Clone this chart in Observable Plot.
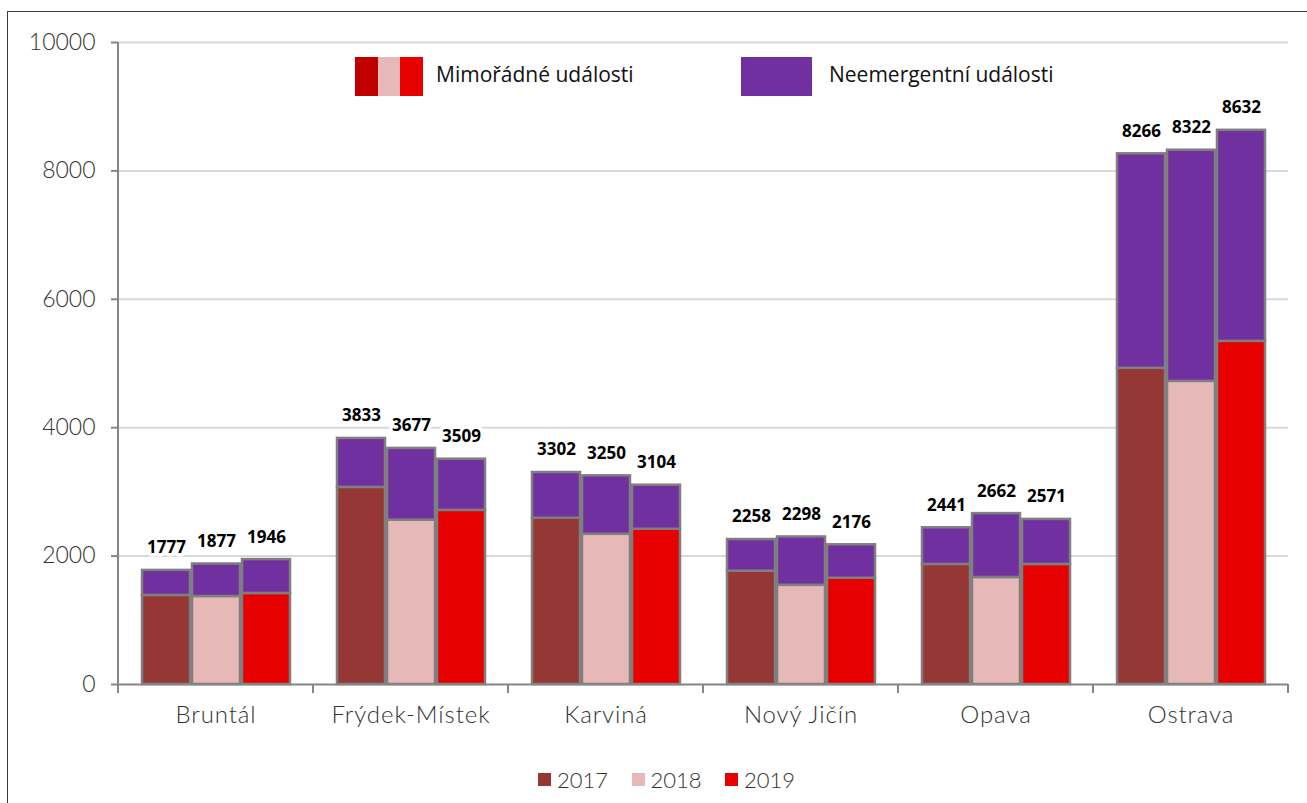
<!DOCTYPE html>
<html>
<head>
<meta charset="utf-8">
<script src="https://cdn.jsdelivr.net/npm/d3@7"></script>
<script src="https://cdn.jsdelivr.net/npm/@observablehq/plot@0.6"></script>
<style>
  html, body { margin: 0; padding: 0; background: #fff; }
  body { width: 1307px; height: 803px; overflow: hidden; position: relative; }
  #frame { position: absolute; left: 7px; top: 11px; width: 1400px; height: 900px;
           border-left: 1.5px solid #3c3c3c; border-top: 1.5px solid #3c3c3c; }
  #chart { position: absolute; left: 0; top: 0; }
  #chart g[aria-label="fx-axis tick label"] text { letter-spacing: 0.9px; }
  .tl { position: absolute; font-family: "Open Sans", sans-serif; font-size: 21px; color: #111; line-height: 1; }
  .sw { position: absolute; height: 39px; }
  .bl { position: absolute; font-family: Lato, sans-serif; font-weight: 300; font-size: 22px; color: #333; line-height: 1; }
  .bsw { position: absolute; width: 13px; height: 13px; }
</style>
</head>
<body>
<div id="frame"></div>
<div id="chart"></div>
<div id="legendTop"></div>
<div id="legendBottom"></div>
<script>
// ---- data ----
const districts = ["Bruntál", "Frýdek-Místek", "Karviná", "Nový Jičín", "Opava", "Ostrava"];
const years = ["2017", "2018", "2019"];
const totals2017 = [1777, 3833, 3302, 2258, 2441, 8266];
const totals2018 = [1877, 3677, 3250, 2298, 2662, 8322];
const totals2019 = [1946, 3509, 3104, 2176, 2571, 8632];
const mimoradne2017 = [1387, 3070, 2590, 1765, 1870, 4925];
const mimoradne2018 = [1371, 2560, 2340, 1545, 1667, 4722];
const mimoradne2019 = [1418, 2712, 2418, 1655, 1870, 5345];
const yTicks = [0, 2000, 4000, 6000, 8000, 10000];
const seriesNames = ["Mimořádné události", "Neemergentní události"];
const yearColors = ["#953735", "#E6B9B8", "#E60000"];
const legendMimColors = ["#C00000", "#E6B9B8", "#E60000"];
const neemColor = "#7030A0";

const totalsByYear = {"2017": totals2017, "2018": totals2018, "2019": totals2019};
const mimByYear = {"2017": mimoradne2017, "2018": mimoradne2018, "2019": mimoradne2019};

const rows = [];
const labelRows = [];
districts.forEach((d, i) => {
  years.forEach(y => {
    rows.push({district: d, year: y, key: y, value: mimByYear[y][i]});
  });
});
districts.forEach((d, i) => {
  years.forEach(y => {
    rows.push({district: d, year: y, key: "N", value: totalsByYear[y][i] - mimByYear[y][i]});
    labelRows.push({district: d, year: y, total: totalsByYear[y][i]});
  });
});

const chart = Plot.plot({
  width: 1307,
  height: 745,
  marginLeft: 117,
  marginRight: 18,
  marginTop: 42,
  marginBottom: 61,
  style: {background: "transparent"},
  fx: {domain: districts, padding: 0, label: null},
  x: {domain: years, paddingInner: 0.05, paddingOuter: 0.45, axis: null},
  y: {domain: [0, 10000], label: null},
  color: {domain: [...years, "N"], range: [...yearColors, neemColor]},
  marks: [
    Plot.ruleY(yTicks.filter(t => t > 0), {stroke: "#d9d9d9", strokeWidth: 2}),
    Plot.barY(rows, {fx: "district", x: "year", y: "value", fill: "key",
      stroke: "#7f7f7f", strokeWidth: 2.5}),
    Plot.ruleY([0], {stroke: "#868686", strokeWidth: 2}),
    Plot.axisY({ticks: yTicks, tickSize: 7, tickPadding: 16, stroke: "#868686", strokeWidth: 2,
      fill: "#333", fontSize: 23, fontFamily: "Lato", fontWeight: 300, label: null, tickFormat: d => String(d)}),
    Plot.axisFx({anchor: "bottom", tickSize: 0, tickPadding: 21, fill: "#333", fontSize: 24,
      fontFamily: "Lato", fontWeight: 300, label: null}),
    Plot.text(labelRows, {fx: "district", x: "year", y: "total", text: d => String(d.total),
      dy: -22.5, fontSize: 17, fontWeight: "bold", fontFamily: "Open Sans", fill: "#000",
      stroke: "white", strokeWidth: 7, paintOrder: "stroke"})
  ]
});
document.getElementById("chart").appendChild(chart);

// axis line and category boundary ticks, from Plot's own scales
const fx = chart.scale("fx");
const ys = chart.scale("y");
const svg = d3.select(chart);
const g = svg.append("g").attr("stroke", "#868686").attr("stroke-width", 2);
const x0 = fx.apply(districts[0]);
g.append("line").attr("x1", x0).attr("x2", x0).attr("y1", ys.apply(0) + 1).attr("y2", ys.apply(10000));
const bounds = districts.map(d => fx.apply(d)).concat([fx.apply(districts[districts.length - 1]) + fx.bandwidth]);
bounds.forEach(b => {
  g.append("line").attr("x1", b).attr("x2", b).attr("y1", ys.apply(0)).attr("y2", ys.apply(0) + 9);
});

// top legend
const lt = document.getElementById("legendTop");
legendMimColors.forEach((c, i) => {
  const s = document.createElement("div");
  s.className = "sw";
  s.style.left = (355 + i * 22.7) + "px";
  s.style.top = "57px";
  s.style.width = "22.7px";
  s.style.background = c;
  lt.appendChild(s);
});
const t1 = document.createElement("div");
t1.className = "tl"; t1.textContent = seriesNames[0];
t1.style.left = "436px"; t1.style.top = "64px";
lt.appendChild(t1);
const s2 = document.createElement("div");
s2.className = "sw"; s2.style.left = "741px"; s2.style.top = "57px"; s2.style.width = "71px";
s2.style.background = neemColor;
lt.appendChild(s2);
const t2 = document.createElement("div");
t2.className = "tl"; t2.textContent = seriesNames[1];
t2.style.left = "829px"; t2.style.top = "64px";
lt.appendChild(t2);

// bottom legend
const lb = document.getElementById("legendBottom");
years.forEach((y, i) => {
  const s = document.createElement("div");
  s.className = "bsw";
  s.style.left = (538 + i * 93.5) + "px";
  s.style.top = "773px";
  s.style.background = yearColors[i];
  lb.appendChild(s);
  const t = document.createElement("div");
  t.className = "bl"; t.textContent = y;
  t.style.left = (557 + i * 93.5) + "px";
  t.style.top = "769px";
  lb.appendChild(t);
});
</script>
</body>
</html>
